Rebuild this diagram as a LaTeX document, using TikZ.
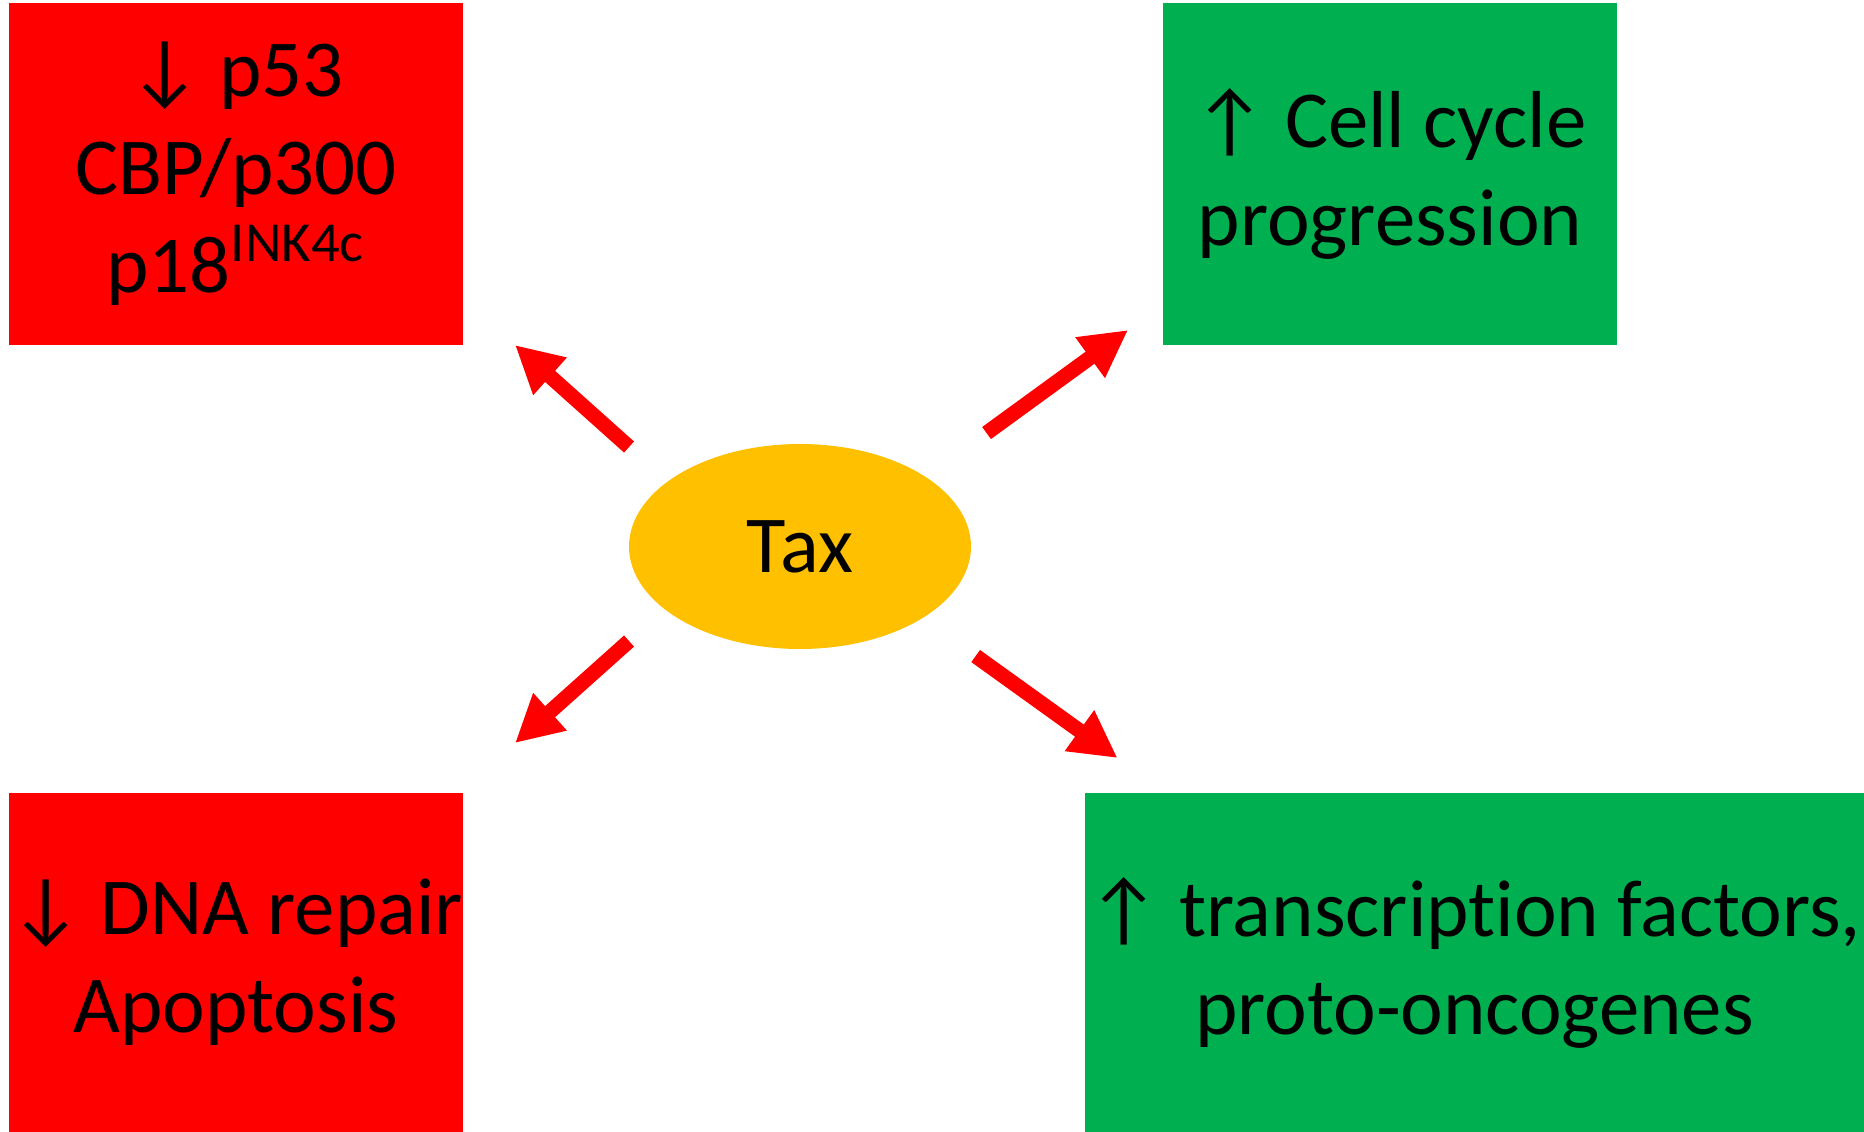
\documentclass[tikz,border=0pt]{standalone}
\usepackage{fontspec}
\setmainfont{Carlito}[Ligatures={NoCommon,NoRare}]
\usetikzlibrary{shapes.geometric,arrows.meta}
\definecolor{boxred}{RGB}{255,0,0}
\definecolor{boxgreen}{RGB}{0,176,80}
\definecolor{taxgold}{RGB}{255,192,0}
\begin{document}
\begin{tikzpicture}[scale=0.1]
 	\tikzstyle{every node}+=[inner sep=0pt, font=\fontsize{23}{27.9}\selectfont]
 	\tikzstyle{downbox}=[rectangle, fill=boxred, minimum width=4.54cm, align=center]
 	\tikzstyle{upbox}=[rectangle, fill=boxgreen, align=center]
 	\tikzstyle{effect}=[draw=boxred, line width=4.25pt, -{Triangle[length=0.47cm,width=0.47cm]}]
 	\useasboundingbox (0,0) rectangle (186.4,-113.2);
 	\node [ellipse, fill=taxgold, minimum width=3.42cm, minimum height=2.05cm] (tax) at (80,-54.65) {Tax};
 	\node [downbox, minimum height=3.42cm] (p53) at (23.6,-17.4) {↓ p53\\CBP/p300\\p18\textsuperscript{INK4c}};
 	\node [upbox, minimum width=4.54cm, minimum height=3.42cm] (cycle) at (139,-17.4) {↑ Cell cycle\\progression};
 	\node [downbox, minimum height=3.39cm] (repair) at (23.6,-96.25) {↓ DNA repair\\Apoptosis};
 	\node [upbox, minimum width=7.79cm, minimum height=3.39cm] (onco) at (147.45,-96.25) {↑ transcription factors,\\proto-oncogenes};
 	\coordinate (tl-s) at (62.9,-44.7);
 	\coordinate (tl-e) at (51.5,-34.5);
 	\coordinate (tr-s) at (98.65,-43.3);
 	\coordinate (tr-e) at (112.8,-33);
 	\coordinate (bl-s) at (62.9,-64.1);
 	\coordinate (bl-e) at (51.5,-74.3);
 	\coordinate (br-s) at (97.56,-65.6);
 	\coordinate (br-e) at (111.75,-75.8);
 	\draw [effect] (tl-s) -- (tl-e);
 	\draw [effect] (tr-s) -- (tr-e);
 	\draw [effect] (bl-s) -- (bl-e);
 	\draw [effect] (br-s) -- (br-e);
\end{tikzpicture}
\end{document}
